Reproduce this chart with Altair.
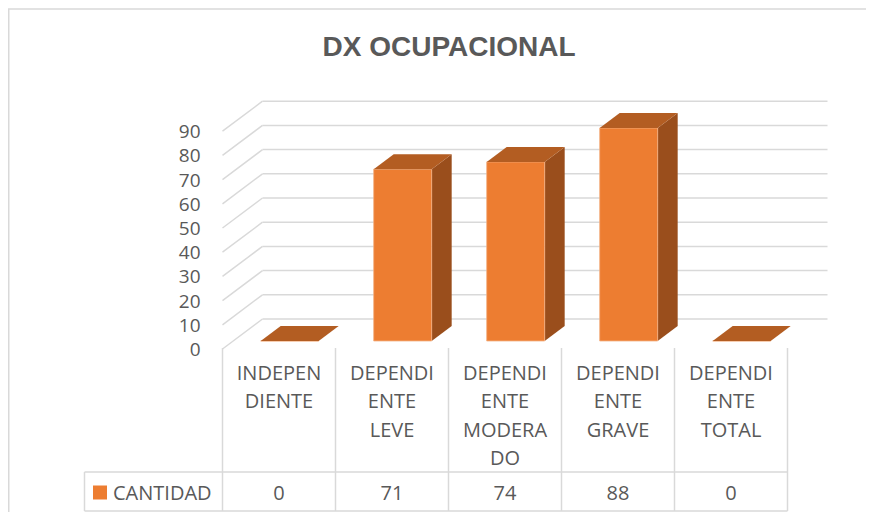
import altair as alt
import pandas as pd

# ---------------- data ----------------
categories = ["INDEPENDIENTE", "DEPENDIENTE LEVE", "DEPENDIENTE MODERADO",
              "DEPENDIENTE GRAVE", "DEPENDIENTE TOTAL"]
category_labels = ["INDEPEN\nDIENTE", "DEPENDI\nENTE\nLEVE", "DEPENDI\nENTE\nMODERA\nDO",
                   "DEPENDI\nENTE\nGRAVE", "DEPENDI\nENTE\nTOTAL"]
values = [0, 71, 74, 88, 0]
series_name = "CANTIDAD"
chart_title = "DX OCUPACIONAL"
y_ticks = [0, 10, 20, 30, 40, 50, 60, 70, 80, 90]

# ---------------- layout (pixels) ----------------
W, H = 858, 504
PX_PER_CAT = 113.0
PX_PER_VAL = 2.42
CAT0_PX = 271.0      # x of first category centre (front plane)
ZERO_PX = 341.0      # y of value 0 on the front plane
DEPTH_PX_X, DEPTH_PX_Y = 40.0, 30.0
BAR_HALF_PX = 29.0
D0, D1 = 0.267, 0.767   # bar front / back depth fraction

kx = DEPTH_PX_X / PX_PER_CAT
ky = DEPTH_PX_Y / PX_PER_VAL
hw = BAR_HALF_PX / PX_PER_CAT
n = len(categories)

xs = alt.Scale(domain=[(0 - CAT0_PX) / PX_PER_CAT, (W - CAT0_PX) / PX_PER_CAT], nice=False, zero=False)
ys = alt.Scale(domain=[(ZERO_PX - H) / PX_PER_VAL, ZERO_PX / PX_PER_VAL], nice=False, zero=False)

ORANGE = "#ED7D31"
TOP = "#B35D22"
SIDE = "#9A4E1C"
GRID = "#D9D9D9"
TXT = "#595959"
FONT = "Open Sans"

# ---------------- walls ----------------
back_grid = pd.DataFrame({
    "x": [-0.5 + kx] * len(y_ticks),
    "x2": [n - 0.5 + kx] * len(y_ticks),
    "y": [t + ky for t in y_ticks],
})
side_grid = pd.DataFrame({
    "x": [-0.5] * len(y_ticks),
    "x2": [-0.5 + kx] * len(y_ticks),
    "y": [float(t) for t in y_ticks],
    "y2": [t + ky for t in y_ticks],
})

back_layer = alt.Chart(back_grid).mark_rule(color=GRID, strokeWidth=1.5).encode(
    x=alt.X("x:Q", scale=xs, axis=None), x2="x2:Q",
    y=alt.Y("y:Q", scale=ys, axis=None))
side_layer = alt.Chart(side_grid).mark_rule(color=GRID, strokeWidth=1.5).encode(
    x=alt.X("x:Q", scale=xs, axis=None), x2="x2:Q",
    y=alt.Y("y:Q", scale=ys, axis=None), y2="y2:Q")

ytick_df = pd.DataFrame({"x": [-0.5] * len(y_ticks), "y": y_ticks, "t": [str(t) for t in y_ticks]})
ytick_layer = alt.Chart(ytick_df).mark_text(
    align="right", baseline="middle", dx=-22, dy=1, font=FONT, fontSize=19, color=TXT
).encode(x=alt.X("x:Q", scale=xs, axis=None), y=alt.Y("y:Q", scale=ys, axis=None), text="t:N")

# ---------------- 3D bars ----------------
front = pd.DataFrame({
    "cat": categories,
    "x": [i - hw + D0 * kx for i in range(n)],
    "x2": [i + hw + D0 * kx for i in range(n)],
    "y": [D0 * ky] * n,
    "y2": [v + D0 * ky for v in values],
})
top_rows, side_rows = [], []
for i, (c, v) in enumerate(zip(categories, values)):
    for d in (D0, D1):
        top_rows.append({"cat": c, "y": v + d * ky,
                         "xl": i - hw + d * kx, "xr": i + hw + d * kx})
        side_rows.append({"cat": c, "x": i + hw + d * kx,
                          "y": d * ky, "y2": v + d * ky})
top_df = pd.DataFrame(top_rows)
side_df = pd.DataFrame(side_rows)

side_face = alt.Chart(side_df).mark_area(orient="vertical", color=SIDE).encode(
    x=alt.X("x:Q", scale=xs, axis=None),
    y=alt.Y("y:Q", scale=ys, axis=None), y2="y2:Q", detail="cat:N")
front_face = alt.Chart(front).mark_rect(color=ORANGE, stroke="#F4B183", strokeWidth=0.8).encode(
    x=alt.X("x:Q", scale=xs, axis=None), x2="x2:Q",
    y=alt.Y("y:Q", scale=ys, axis=None), y2="y2:Q")
top_face = alt.Chart(top_df).mark_area(orient="horizontal", color=TOP).encode(
    y=alt.Y("y:Q", scale=ys, axis=None),
    x=alt.X("xl:Q", scale=xs, axis=None), x2="xr:Q", detail="cat:N")

# ---------------- data table ----------------
TABLE_TOP, ROW_SPLIT, TABLE_BOTTOM = 340, 464, 503
LEGEND_CELL_PX = 138.0
u_left = -0.5 - LEGEND_CELL_PX / PX_PER_CAT

vlines = pd.DataFrame({"x": [i - 0.5 for i in range(n + 1)]})
vline_layer = alt.Chart(vlines).mark_rule(color=GRID, strokeWidth=1.5).encode(
    x=alt.X("x:Q", scale=xs, axis=None),
    y=alt.value(TABLE_TOP), y2=alt.value(TABLE_BOTTOM))
legend_vline = alt.Chart(pd.DataFrame({"x": [u_left]})).mark_rule(color=GRID, strokeWidth=1.5).encode(
    x=alt.X("x:Q", scale=xs, axis=None),
    y=alt.value(ROW_SPLIT), y2=alt.value(TABLE_BOTTOM))
hl_df = pd.DataFrame({"x": [u_left], "x2": [n - 0.5]})
hline1 = alt.Chart(hl_df).mark_rule(color=GRID, strokeWidth=1.5).encode(
    x=alt.X("x:Q", scale=xs, axis=None), x2="x2:Q", y=alt.value(ROW_SPLIT))
hline2 = alt.Chart(hl_df).mark_rule(color=GRID, strokeWidth=1.5).encode(
    x=alt.X("x:Q", scale=xs, axis=None), x2="x2:Q", y=alt.value(TABLE_BOTTOM))

cat_df = pd.DataFrame({"x": list(range(n)), "label": category_labels})
cat_text = alt.Chart(cat_df).mark_text(
    align="center", baseline="alphabetic", lineBreak="\n", lineHeight=28.4,
    font=FONT, fontSize=20, color=TXT
).encode(x=alt.X("x:Q", scale=xs, axis=None), y=alt.value(372), text="label:N")

val_df = pd.DataFrame({"x": list(range(n)), "v": [str(v) for v in values]})
val_text = alt.Chart(val_df).mark_text(
    align="center", baseline="alphabetic", font=FONT, fontSize=20, color=TXT
).encode(x=alt.X("x:Q", scale=xs, axis=None), y=alt.value(492), text="v:N")

leg_df = pd.DataFrame({"name": [series_name]})
leg_square = alt.Chart(leg_df).mark_square(size=196, color=ORANGE, opacity=1).encode(
    x=alt.value(92), y=alt.value(484.5))
leg_text = alt.Chart(leg_df).mark_text(
    align="left", baseline="alphabetic", font=FONT, fontSize=20, color=TXT
).encode(x=alt.value(105), y=alt.value(492), text="name:N")

# ---------------- title & frame ----------------
title_layer = alt.Chart(pd.DataFrame({"t": [chart_title]})).mark_text(
    align="center", baseline="alphabetic", font="Liberation Sans", fontSize=28,
    fontWeight="bold", color=TXT
).encode(x=alt.value(441), y=alt.value(48), text="t:N")

frame_df = pd.DataFrame({"k": [0]})
frame_top = alt.Chart(frame_df).mark_rule(color=GRID, strokeWidth=1.5).encode(
    x=alt.value(0), x2=alt.value(W), y=alt.value(1))
frame_left = alt.Chart(frame_df).mark_rule(color=GRID, strokeWidth=1.5).encode(
    x=alt.value(0.75), y=alt.value(1), y2=alt.value(H))

chart = alt.layer(
    frame_top, frame_left, back_layer, side_layer, ytick_layer,
    side_face, front_face, top_face,
    vline_layer, legend_vline, hline1, hline2,
    cat_text, val_text, leg_square, leg_text, title_layer,
).properties(
    width=W, height=H,
    autosize=alt.AutoSizeParams(type="none"),
    padding=0,
    background="white",
).configure_view(strokeWidth=0)

chart.save("out.html", embed_options={"renderer": "svg", "actions": False})
